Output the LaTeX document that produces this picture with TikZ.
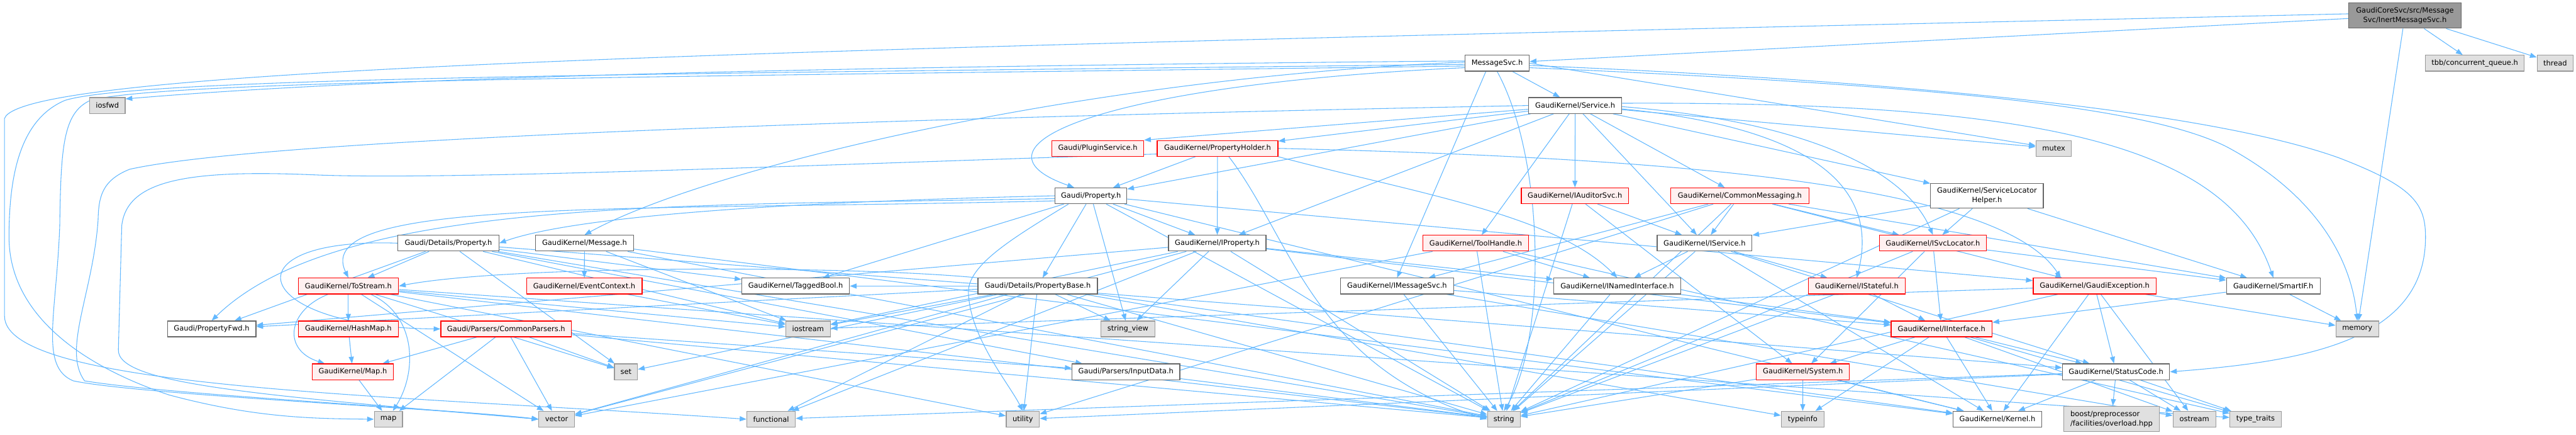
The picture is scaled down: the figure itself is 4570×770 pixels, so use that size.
\documentclass[tikz,border=0pt]{standalone}
\usepackage{fontspec}
\setmainfont{DejaVu Sans}
\usetikzlibrary{arrows.meta,backgrounds}
\definecolor{edgecol}{HTML}{63B8FF}
\definecolor{bordergray}{HTML}{666666}
\definecolor{extborder}{HTML}{999999}
\definecolor{extfill}{HTML}{E0E0E0}
\definecolor{redfill}{HTML}{FFF0F0}
\definecolor{redborder}{HTML}{FF0000}
\definecolor{rootfill}{HTML}{999999}
\begin{document}
\begin{tikzpicture}[x=1pt,y=-1pt,
  every node/.style={font=\fontsize{12.8}{17}\selectfont},
  box/.style={draw=bordergray,fill=white,line width=1.4pt,inner sep=0pt,minimum height=28pt,align=center},
  redbox/.style={box,draw=redborder,fill=redfill},
  extbox/.style={box,draw=extborder,fill=extfill},
  rootbox/.style={box,fill=rootfill},
  dep/.style={draw=edgecol,line width=1.2pt,-{Triangle[length=12pt,width=9pt]}}]
\useasboundingbox (0,0) rectangle (4570,770);
% rank 0-1
\node[rootbox,minimum width=199pt,minimum height=45pt] (root) at (4266.5,27.5) {GaudiCoreSvc/src/Message\\Svc/InertMessageSvc.h};
\node[box,minimum width=114pt] (msgsvc) at (2656,112) {MessageSvc.h};
\node[extbox,minimum width=175pt] (tbb) at (4390.5,112) {tbb/concurrent\_queue.h};
\node[extbox,minimum width=64pt] (thread) at (4533,112) {thread};
% rank 2
\node[extbox,minimum width=63pt] (iosfwd) at (190.5,187) {iosfwd};
\node[box,minimum width=165pt] (service) at (2794.5,187) {GaudiKernel/Service.h};
% rank 3
\node[redbox,minimum width=163pt] (pluginsvc) at (1947.5,263) {Gaudi/PluginService.h};
\node[redbox,minimum width=214pt] (propholder) at (2160,263) {GaudiKernel/PropertyHolder.h};
\node[extbox,minimum width=63pt] (mutex) at (3643.5,263) {mutex};
% rank 4
\node[box,minimum width=127pt] (property) at (1935.5,347) {Gaudi/Property.h};
\node[redbox,minimum width=190pt] (iauditor) at (2794,347) {GaudiKernel/IAuditorSvc.h};
\node[redbox,minimum width=245pt] (commonmsg) at (3086.5,347) {GaudiKernel/CommonMessaging.h};
\node[box,minimum width=200pt,minimum height=44pt] (slhelper) at (3525,347) {GaudiKernel/ServiceLocator\\Helper.h};
% rank 5
\node[box,minimum width=179pt] (detprop) at (795.5,431) {Gaudi/Details/Property.h};
\node[box,minimum width=174pt] (message) at (1037,431) {GaudiKernel/Message.h};
\node[box,minimum width=173pt] (iproperty) at (2159.5,431) {GaudiKernel/IProperty.h};
\node[redbox,minimum width=188pt] (toolhandle) at (2618,431) {GaudiKernel/ToolHandle.h};
\node[box,minimum width=168pt] (iservice) at (3024,431) {GaudiKernel/IService.h};
\node[redbox,minimum width=190pt] (isvcloc) at (3429,431) {GaudiKernel/ISvcLocator.h};
% rank 6
\node[redbox,minimum width=178pt] (tostream) at (618,507) {GaudiKernel/ToStream.h};
\node[redbox,minimum width=205pt] (eventctx) at (1036.5,507) {GaudiKernel/EventContext.h};
\node[box,minimum width=191pt] (taggedbool) at (1411.5,507) {GaudiKernel/TaggedBool.h};
\node[box,minimum width=212pt] (propbase) at (1841,507) {Gaudi/Details/PropertyBase.h};
\node[box,minimum width=201pt] (imsgsvc) at (2478.5,507) {GaudiKernel/IMessageSvc.h};
\node[box,minimum width=226pt] (inamed) at (2869,507) {GaudiKernel/INamedInterface.h};
\node[redbox,minimum width=172pt] (istateful) at (3294,507) {GaudiKernel/IStateful.h};
\node[redbox,minimum width=218pt] (gexc) at (3716,507) {GaudiKernel/GaudiException.h};
\node[box,minimum width=166pt] (smartif) at (4033,507) {GaudiKernel/SmartIF.h};
% rank 7
\node[box,minimum width=157pt] (propfwd) at (375.5,583) {Gaudi/PropertyFwd.h};
\node[redbox,minimum width=178pt] (hashmap) at (618,583) {GaudiKernel/HashMap.h};
\node[redbox,minimum width=232pt] (commonparsers) at (898,583) {Gaudi/Parsers/CommonParsers.h};
\node[extbox,minimum width=79pt] (iostream) at (1433.5,583) {iostream};
\node[extbox,minimum width=96pt] (stringview) at (2001,583) {string\_view};
\node[redbox,minimum width=179pt] (iinterface) at (3444.5,583) {GaudiKernel/IInterface.h};
\node[extbox,minimum width=76pt] (memory) at (4182,583) {memory};
% rank 8
\node[redbox,minimum width=144pt] (kmap) at (626,659) {GaudiKernel/Map.h};
\node[extbox,minimum width=41pt] (set) at (1110.5,659) {set};
\node[box,minimum width=191pt] (inputdata) at (1997.5,659) {Gaudi/Parsers/InputData.h};
\node[redbox,minimum width=165pt] (system) at (3198.5,659) {GaudiKernel/System.h};
\node[box,minimum width=190pt] (statuscode) at (3754,659) {GaudiKernel/StatusCode.h};
% rank 9
\node[extbox,minimum width=50pt] (map) at (689,743) {map};
\node[extbox,minimum width=63pt] (vector) at (987.5,743) {vector};
\node[extbox,minimum width=86pt] (functional) at (1368,743) {functional};
\node[extbox,minimum width=59pt] (utility) at (1814.5,743) {utility};
\node[extbox,minimum width=58pt] (string) at (2668,743) {string};
\node[extbox,minimum width=76pt] (typeinfo) at (3198,743) {typeinfo};
\node[box,minimum width=157pt] (kernel) at (3543.5,743) {GaudiKernel/Kernel.h};
\node[extbox,minimum width=170pt,minimum height=45pt,align=left] (boost) at (3746,742.5) {boost/preprocessor\\/facilities/overload.hpp};
\node[extbox,minimum width=76pt] (ostream) at (3893,743) {ostream};
\node[extbox,minimum width=91pt] (typetraits) at (4001.5,743) {type\_traits};

\begin{pgfonlayer}{background}
% root
\draw[dep] (root) -- (msgsvc);
\draw[dep] (root) -- (tbb);
\draw[dep] (root) -- (thread);
\draw[dep] (root) -- (memory);
\draw[dep] ([yshift=3pt]root.west) .. controls (1500,85) and (40,115) .. (8,210) -- (8,560) .. controls (8,690) and (700,700) .. (functional.west);
% MessageSvc
\draw[dep] (msgsvc) -- (service);
\draw[dep] ([xshift=-20pt]msgsvc.south) -- (imsgsvc.north);
\draw[dep] ([yshift=2pt]msgsvc.west) .. controls (1900,140) and (1250,300) .. (message.north);
\draw[dep] ([yshift=-8pt]msgsvc.west) .. controls (1950,150) and (1700,260) .. ([xshift=-30pt]property.north);
\draw[dep] ([yshift=4pt]msgsvc.west) .. controls (1500,118) and (700,135) .. ([yshift=-3pt]iosfwd.north east);
\draw[dep] ([yshift=-2pt]msgsvc.west) .. controls (1300,130) and (250,135) .. (115,178) .. controls (40,210) and (16,300) .. (16,420) .. controls (16,560) and (150,650) .. (300,700) .. controls (450,740) and (550,742) .. (map.west);
\draw[dep] ([yshift=-5pt]msgsvc.west) .. controls (1300,135) and (300,140) .. (160,178) .. controls (112,200) and (108,260) .. (106,400) .. controls (100,560) and (70,650) .. (130,675) .. controls (250,700) and (800,725) .. (vector.west);
\draw[dep] (msgsvc.east) -- ([yshift=5pt]mutex.west);
\draw[dep] ([yshift=-4pt]msgsvc.east) .. controls (3300,140) and (3900,190) .. (4150,280) .. controls (4280,330) and (4303,360) .. (4303,420) .. controls (4303,600) and (4100,640) .. (statuscode.east);
\draw[dep] ([yshift=-8pt]msgsvc.east) .. controls (3400,150) and (3800,185) .. (3950,260) .. controls (4100,340) and (4170,450) .. (memory.north);
\draw[dep] (msgsvc.south) .. controls (2740,280) and (2745,600) .. (string.north);
% Service
\draw[dep] (service) -- (commonmsg);
\draw[dep] (service) -- (iauditor);
\draw[dep] (service) -- (iproperty);
\draw[dep] (service) -- (iservice);
\draw[dep] ([yshift=-6pt]service.east) .. controls (3250,230) and (3330,350) .. (istateful.north);
\draw[dep] ([yshift=-2pt]service.east) .. controls (3200,215) and (3380,300) .. (isvcloc.north);
\draw[dep] (service) -- (propholder);
\draw[dep] (service) -- (slhelper);
\draw[dep] ([yshift=4pt]service.east) .. controls (3600,180) and (3950,250) .. (smartif.north);
\draw[dep] (service) -- (toolhandle);
\draw[dep] (service) -- (pluginsvc.north east);
\draw[dep] (service) -- (property);
\draw[dep] (service) -- (mutex);
\draw[dep] (service.west) .. controls (1800,205) and (500,240) .. (230,300) .. controls (180,320) and (175,350) .. (174,390) .. controls (165,520) and (110,620) .. (150,675) .. controls (300,700) and (800,725) .. (vector.west);
% PropertyHolder
\draw[dep] (propholder) -- (property);
\draw[dep] (propholder) -- (iproperty);
\draw[dep] (propholder.east) .. controls (3000,280) and (3550,330) .. ([xshift=-60pt]gexc.north);
\draw[dep] (propholder.south east) .. controls (2500,340) and (2760,380) .. (inamed.north);
\draw[dep] ([xshift=20pt]propholder.south) .. controls (2290,420) and (2330,650) .. (string.west);
\draw[dep] ([yshift=-10pt]propholder.west) .. controls (1500,290) and (800,320) .. (560,310) .. controls (330,300) and (225,320) .. (216,400) -- (210,620) .. controls (208,680) and (450,700) .. (vector.west);
% Gaudi/Property.h
\draw[dep] (property.west) .. controls (1300,360) and (1000,390) .. (detprop.east);
\draw[dep] (property) -- (propbase);
\draw[dep] ([yshift=-5pt]property.west) .. controls (1200,365) and (600,350) .. (propfwd.north);
\draw[dep] ([yshift=-9pt]property.west) .. controls (1100,375) and (550,350) .. (tostream.north);
\draw[dep] (property) -- (iproperty);
\draw[dep] (property) -- (gexc);
\draw[dep] (property) -- (kernel);
\draw[dep] (property) -- (taggedbool);
\draw[dep] (property) -- (string);
\draw[dep] (property) -- (stringview);
\draw[dep] ([xshift=-40pt]property.south) .. controls (1800,420) and (1715,470) .. (1718,520) .. controls (1722,600) and (1790,680) .. (utility.north);
% IAuditorSvc
\draw[dep] (iauditor) -- (iservice);
\draw[dep] (iauditor) -- (system);
\draw[dep] (iauditor) -- (string);
% CommonMessaging
\draw[dep] (commonmsg) -- (imsgsvc);
\draw[dep] (commonmsg) -- (iservice);
\draw[dep] (commonmsg) -- (isvcloc);
\draw[dep] (commonmsg) -- (smartif);
\draw[dep] (commonmsg) -- (gexc);
\draw[dep] (commonmsg) -- (string);
\draw[dep] (commonmsg) -- (utility);
% ServiceLocatorHelper
\draw[dep] (slhelper) -- (iservice);
\draw[dep] (slhelper) -- (isvcloc);
\draw[dep] (slhelper) -- (smartif);
\draw[dep] (slhelper) -- (string);
% Details/Property
\draw[dep] (detprop.west) .. controls (400,420) and (440,580) .. (commonparsers.west);
\draw[dep] (detprop) -- (propfwd);
\draw[dep] (detprop) -- (tostream);
\draw[dep] (detprop) -- (taggedbool);
\draw[dep] (detprop) -- (inputdata);
\draw[dep] (detprop) -- (statuscode);
\draw[dep] (detprop) -- (iostream);
\draw[dep] (detprop) -- (string);
\draw[dep] (detprop) -- (set);
% Message
\draw[dep] (message) -- (eventctx);
\draw[dep] (message) -- (iostream);
\draw[dep] (message) -- (kernel);
\draw[dep] (message) -- (string);
% IProperty
\draw[dep] (iproperty) -- (propfwd);
\draw[dep] (iproperty) -- (iinterface);
\draw[dep] (iproperty) -- (inamed);
\draw[dep] (iproperty) -- (iostream);
\draw[dep] (iproperty) -- (string);
\draw[dep] (iproperty) -- (stringview);
\draw[dep] (iproperty) -- (vector);
\draw[dep] (iproperty) -- (functional);
% ToolHandle
\draw[dep] (toolhandle) -- (inamed);
\draw[dep] (toolhandle) -- (string);
\draw[dep] (toolhandle) -- (vector);
\draw[dep] (toolhandle) -- (typetraits);
% IService
\draw[dep] (iservice) -- (inamed);
\draw[dep] (iservice) -- (istateful);
\draw[dep] (iservice) -- (kernel);
\draw[dep] (iservice) -- (statuscode);
\draw[dep] (iservice) -- (string);
% ISvcLocator
\draw[dep] (isvcloc) -- (iinterface);
\draw[dep] (isvcloc) -- (smartif);
\draw[dep] (isvcloc) -- (string);
\draw[dep] (isvcloc) -- (system);
% ToStream
\draw[dep] (tostream) -- (hashmap);
\draw[dep] ([xshift=-36pt]tostream.south) .. controls (510,550) and (500,620) .. ([xshift=-50pt]kmap.north);
\draw[dep] ([xshift=40pt]tostream.south) .. controls (740,560) and (740,660) .. ([xshift=8pt]map.north);
\draw[dep] (tostream) -- (iostream);
\draw[dep] (tostream) -- (set);
\draw[dep] (tostream) -- (string);
\draw[dep] (tostream) -- (vector);
\draw[dep] (tostream) -- (utility);
\draw[dep] (tostream) -- (typetraits);
% EventContext
\draw[dep] (eventctx) -- (iostream);
% PropertyBase
\draw[dep] (propbase) -- (taggedbool);
\draw[dep] (propbase) -- (propfwd);
\draw[dep] (propbase.north west) .. controls (1500,470) and (900,470) .. (tostream.east);
\draw[dep] (propbase) -- (iostream);
\draw[dep] (propbase) -- (set);
\draw[dep] (propbase) -- (vector);
\draw[dep] (propbase) -- (functional);
\draw[dep] (propbase) -- (utility);
\draw[dep] (propbase) -- (stringview);
\draw[dep] (propbase) -- (string);
\draw[dep] (propbase) -- (typeinfo);
\draw[dep] (propbase) -- (kernel);
% IMessageSvc
\draw[dep] (imsgsvc) -- (iinterface);
\draw[dep] (imsgsvc) -- (string);
\draw[dep] (imsgsvc) -- (ostream);
% INamedInterface
\draw[dep] (inamed) -- (iinterface);
\draw[dep] (inamed) -- (string);
% IStateful
\draw[dep] (istateful) -- (iinterface);
\draw[dep] (istateful) -- (string);
% GaudiException
\draw[dep] (gexc) -- (kernel);
\draw[dep] (gexc) -- (statuscode);
\draw[dep] (gexc) -- (memory);
\draw[dep] (gexc) -- (string);
\draw[dep] (gexc) -- (iostream);
\draw[dep] (gexc) -- (ostream);
% SmartIF
\draw[dep] (smartif) -- (iinterface);
\draw[dep] (smartif) -- (memory);
% HashMap
\draw[dep] (hashmap) -- (kmap);
% CommonParsers
\draw[dep] (commonparsers) -- (kmap);
\draw[dep] (commonparsers) -- (map);
\draw[dep] (commonparsers) -- (vector);
\draw[dep] (commonparsers) -- (set);
\draw[dep] (commonparsers) -- (string);
\draw[dep] (commonparsers) -- (inputdata);
% IInterface
\draw[dep] (iinterface) -- (system);
\draw[dep] (iinterface) -- (typeinfo);
\draw[dep] (iinterface) -- (kernel);
\draw[dep] (iinterface) -- (statuscode);
\draw[dep] (iinterface) -- (ostream);
\draw[dep] (iinterface) -- (typetraits);
% Map, InputData, System
\draw[dep] (kmap) -- (map);
\draw[dep] (inputdata) -- (string);
\draw[dep] (system) -- (typeinfo);
\draw[dep] (system) -- (kernel);
\draw[dep] (system) -- (string);
% StatusCode
\draw[dep] (statuscode) -- (kernel);
\draw[dep] (statuscode) -- (boost);
\draw[dep] (statuscode) -- (ostream);
\draw[dep] (statuscode) -- (typetraits);
\draw[dep] (statuscode) -- (utility);
\draw[dep] (statuscode) -- (functional);
\end{pgfonlayer}
\end{tikzpicture}
\end{document}
